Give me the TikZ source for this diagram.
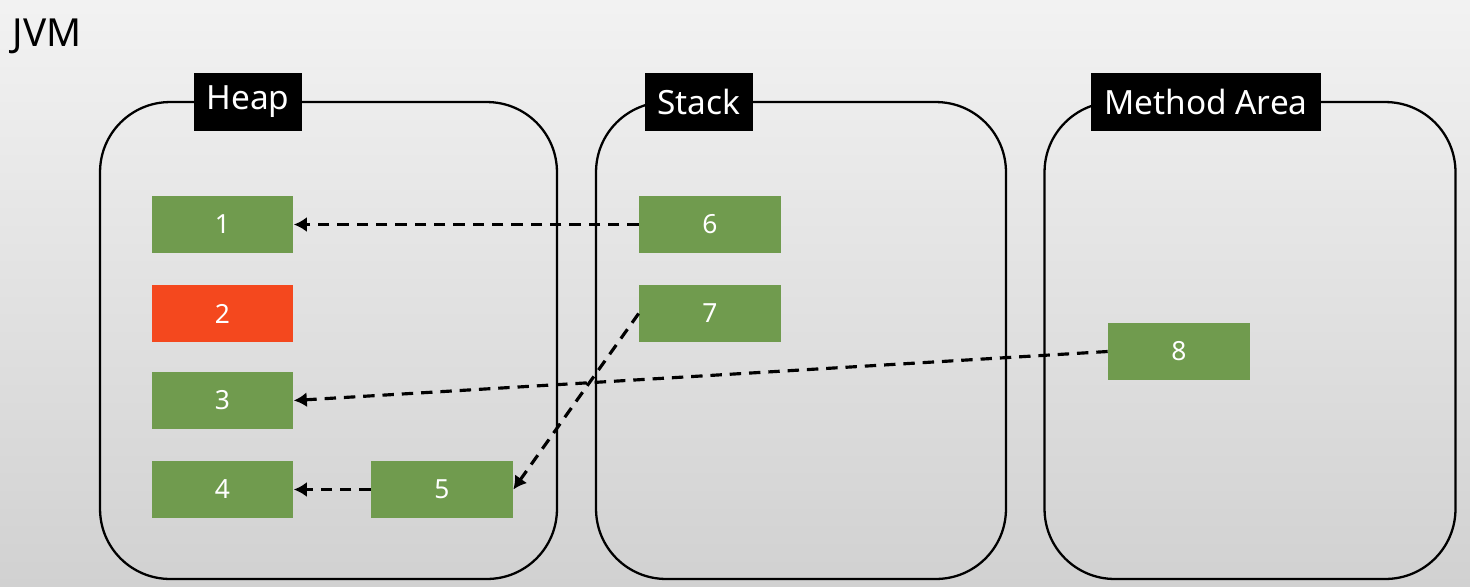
\documentclass[tikz,border=0pt]{standalone}
\usepackage{fontspec}
\setmainfont{Noto Sans}
\usetikzlibrary{arrows.meta}
\definecolor{objgreen}{HTML}{709B4E}
\definecolor{objred}{HTML}{F4481E}
\begin{document}
\begin{tikzpicture}[x=0.02cm,y=-0.02cm,
    area/.style={draw,line width=1.3pt,rounded corners=1.4cm,minimum width=#1,minimum height=9.54cm},
    areatitle/.style={fill=black,text=white,font=\fontsize{19}{22}\selectfont,minimum height=1.16cm,inner xsep=0.26cm},
    obj/.style={fill=objgreen,text=white,font=\fontsize{15}{17}\selectfont,minimum width=2.84cm,minimum height=1.14cm},
    ref/.style={line width=1.8pt,dash pattern=on 6.5pt off 4.5pt,-{Latex[length=2.6mm,width=3mm]}}]
  \path[top color=black!5,middle color=black!6,bottom color=black!18] (0,0) rectangle (1470,586);
  \draw (47,36) node[font=\fontsize{22}{24}\selectfont] (jvm){JVM};
  \draw
    (328.5,340.5) node[area=9.14cm] (heap){}
    (801,340.5) node[area=8.2cm] (stack){}
    (1250,340.5) node[area=8.22cm] (method){};
  \draw
    (248,102) node[areatitle] (heapt){Heap}
    (699,102) node[areatitle] (stackt){Stack}
    (1206,102) node[areatitle] (methodt){Method Area};
  \draw
    (222.5,224.5) node[obj] (o1){1}
    (222.5,313.5) node[obj,fill=objred] (o2){2}
    (222.5,400.5) node[obj] (o3){3}
    (222.5,489.5) node[obj] (o4){4}
    (442,489.5) node[obj] (o5){5}
    (710,224.5) node[obj] (o6){6}
    (710,313.5) node[obj] (o7){7}
    (1179,351.5) node[obj] (o8){8};
  \begin{scope}[ref]
    \draw (o6.west) to (o1.east);
    \draw (o5.west) to (o4.east);
    \draw (o7.west) to (o5.east);
    \draw (o8.west) to (o3.east);
  \end{scope}
\end{tikzpicture}
\end{document}
